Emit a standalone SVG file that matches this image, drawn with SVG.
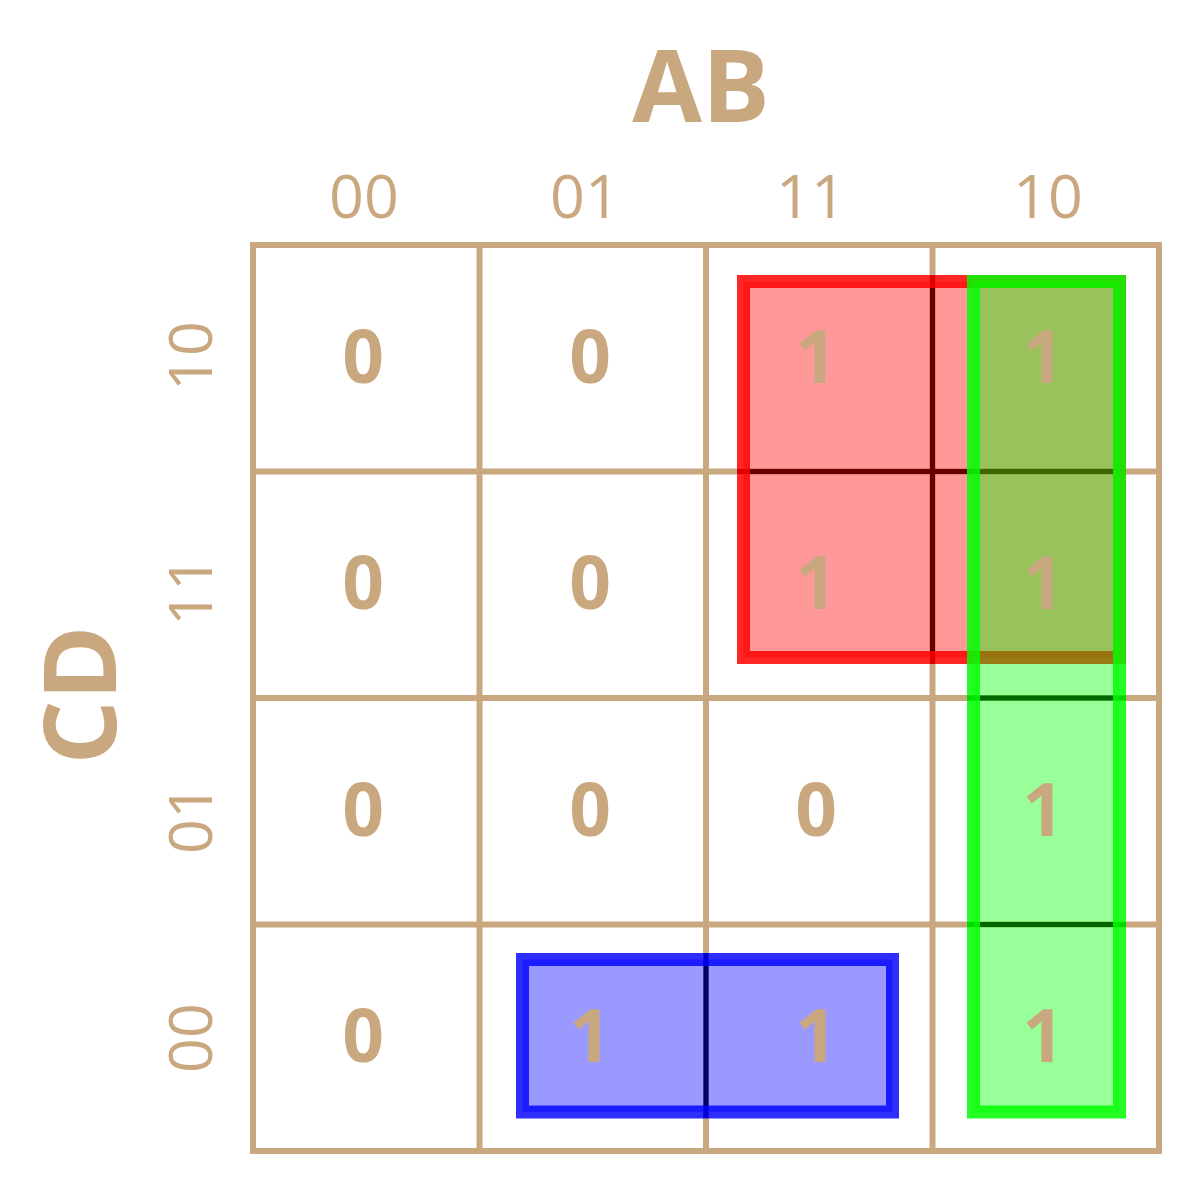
<svg xmlns="http://www.w3.org/2000/svg" width="1200" height="1200" viewBox="0 0 1200 1200">
  <style>
    .grid { stroke: #CAA87F; stroke-width: 6; fill: none; stroke-linecap: square; }
    .dark { stroke: #000; stroke-width: 5; }
    .val { font-family: "Open Sans", "Noto Sans", sans-serif; font-weight: 700; font-size: 73px; fill: #CAA87F; text-anchor: middle; }
    .lab { font-family: "Open Sans", "Noto Sans", sans-serif; font-weight: 400; font-size: 61px; fill: #CAA87F; text-anchor: middle; }
    .title { font-family: "Open Sans", "Noto Sans", sans-serif; font-weight: 700; font-size: 101px; fill: #CAA87F; text-anchor: middle; }
    .grp { stroke-width: 13; }
  </style>
  <rect width="1200" height="1200" fill="#fff"/>

  <g id="grid" class="grid">
    <rect x="253" y="245" width="906" height="906"/>
    <line x1="479.5" y1="245" x2="479.5" y2="1151"/>
    <line x1="706" y1="245" x2="706" y2="1151"/>
    <line x1="932.5" y1="245" x2="932.5" y2="1151"/>
    <line x1="253" y1="471.5" x2="1159" y2="471.5"/>
    <line x1="253" y1="698" x2="1159" y2="698"/>
    <line x1="253" y1="924.5" x2="1159" y2="924.5"/>
  </g>

  <g id="connectors" class="dark">
    <line x1="737" y1="471.5" x2="1126" y2="471.5"/>
    <line x1="932.5" y1="275" x2="932.5" y2="664"/>
    <line x1="967" y1="698" x2="1126" y2="698"/>
    <line x1="967" y1="924.5" x2="1126" y2="924.5"/>
    <line x1="706" y1="953" x2="706" y2="1118"/>
  </g>

  <g id="group-red">
    <rect class="grp" x="743.5" y="281.5" width="376" height="376" fill="#FF0000" fill-opacity="0.4" stroke="#FF0000" stroke-opacity="0.85"/>
  </g>
  <g id="group-green">
    <rect class="grp" x="973.5" y="281.5" width="146" height="830.5" fill="#00FF00" fill-opacity="0.4" stroke="#00FF00" stroke-opacity="0.85"/>
  </g>
  <g id="group-blue">
    <rect class="grp" x="522.5" y="959.5" width="370" height="152.5" fill="#0000FF" fill-opacity="0.4" stroke="#0000FF" stroke-opacity="0.82"/>
  </g>

  <g id="title-AB"><text class="title" x="701" y="122">AB</text></g>
  <g id="title-CD"><text class="title" transform="translate(116,695) rotate(-90)" x="0" y="0">CD</text></g>

  <g id="col-labels">
    <text class="lab" x="364" y="218">00</text>
    <text class="lab" x="585" y="218">01</text>
    <text class="lab" x="811" y="218">11</text>
    <text class="lab" x="1048" y="218">10</text>
  </g>
  <g id="row-labels">
    <text class="lab" transform="translate(212,356) rotate(-90)">10</text>
    <text class="lab" transform="translate(212,591) rotate(-90)">11</text>
    <text class="lab" transform="translate(212,819) rotate(-90)">01</text>
    <text class="lab" transform="translate(212,1038) rotate(-90)">00</text>
  </g>

  <g id="cells">
    <g id="c-r1-c1"><text class="val" x="363" y="383">0</text></g>
    <g id="c-r1-c2"><text class="val" x="590" y="383">0</text></g>
    <g id="c-r1-c3"><text class="val" x="816" y="383">1</text></g>
    <g id="c-r1-c4"><text class="val" x="1043" y="383">1</text></g>
    <g id="c-r2-c1"><text class="val" x="363" y="609">0</text></g>
    <g id="c-r2-c2"><text class="val" x="590" y="609">0</text></g>
    <g id="c-r2-c3"><text class="val" x="816" y="609">1</text></g>
    <g id="c-r2-c4"><text class="val" x="1043" y="609">1</text></g>
    <g id="c-r3-c1"><text class="val" x="363" y="836">0</text></g>
    <g id="c-r3-c2"><text class="val" x="590" y="836">0</text></g>
    <g id="c-r3-c3"><text class="val" x="816" y="836">0</text></g>
    <g id="c-r3-c4"><text class="val" x="1043" y="836">1</text></g>
    <g id="c-r4-c1"><text class="val" x="363" y="1062">0</text></g>
    <g id="c-r4-c2"><text class="val" x="590" y="1062">1</text></g>
    <g id="c-r4-c3"><text class="val" x="816" y="1062">1</text></g>
    <g id="c-r4-c4"><text class="val" x="1043" y="1062">1</text></g>
  </g>
</svg>
